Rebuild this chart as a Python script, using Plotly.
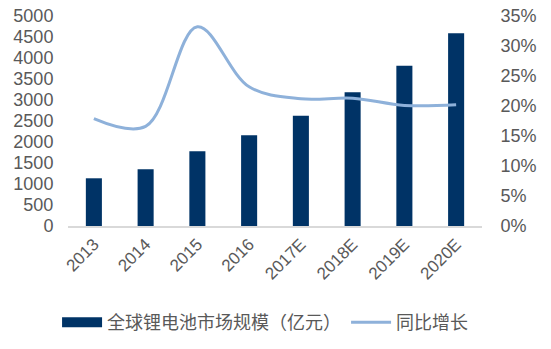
import plotly.graph_objects as go

years = ["2013", "2014", "2015", "2016", "2017E", "2018E", "2019E", "2020E"]
market_size = [1136, 1350, 1778, 2159, 2626, 3183, 3817, 4588]
yoy_growth = [17.9, 16.6, 33.2, 23.2, 21.2, 21.3, 20.1, 20.2]
left_ticks = [0, 500, 1000, 1500, 2000, 2500, 3000, 3500, 4000, 4500, 5000]
right_ticks = [0, 5, 10, 15, 20, 25, 30, 35]
right_labels = [f"{v}%" for v in right_ticks]

font_family = "Liberation Sans, Arial, Noto Sans CJK SC, sans-serif"
text_color = "#595959"
bar_color = "#003366"
line_color = "#8eb1da"

fig = go.Figure()
fig.add_trace(go.Bar(
    x=years, y=market_size, name="全球锂电池市场规模（亿元）",
    marker=dict(color=bar_color, line=dict(width=0)), showlegend=False,
))
# wide legend swatch for the bar series
fig.add_trace(go.Scatter(
    x=[years[0]], y=[None], name="全球锂电池市场规模（亿元）", mode="lines",
    line=dict(color=bar_color, width=11), hoverinfo="skip",
))
fig.add_trace(go.Scatter(
    x=years, y=yoy_growth, name="同比增长", yaxis="y2", mode="lines",
    line=dict(color=line_color, width=3, shape="spline", smoothing=1.0),
))

fig.update_layout(
    width=551, height=349,
    margin=dict(l=68, r=69, t=16, b=123, autoexpand=False),
    paper_bgcolor="white", plot_bgcolor="white",
    font=dict(family=font_family, size=18, color=text_color),
    bargap=0.69,
    showlegend=True,
    legend=dict(orientation="h", x=0.476, xanchor="center", y=-0.46, yanchor="middle",
                font=dict(size=18, color=text_color), itemwidth=40,
                tracegroupgap=0, bgcolor="rgba(0,0,0,0)"),
    xaxis=dict(
        tickangle=-45, tickfont=dict(size=17, color=text_color),
        showline=True, linecolor="#d9d9d9", linewidth=1.5,
        showgrid=False, ticks="", automargin=False,
    ),
    yaxis=dict(
        range=[0, 5000], tickvals=left_ticks, showgrid=False, zeroline=False,
        showline=False, ticks="outside", ticklen=10, tickcolor="rgba(0,0,0,0)",
        tickfont=dict(size=18, color=text_color), automargin=False,
    ),
    yaxis2=dict(
        range=[0, 35], tickvals=right_ticks, ticktext=right_labels, overlaying="y",
        side="right", showgrid=False, zeroline=False, showline=False,
        ticks="outside", ticklen=14, tickcolor="rgba(0,0,0,0)",
        tickfont=dict(size=18, color=text_color), automargin=False,
    ),
)

fig.write_html("out.html")
